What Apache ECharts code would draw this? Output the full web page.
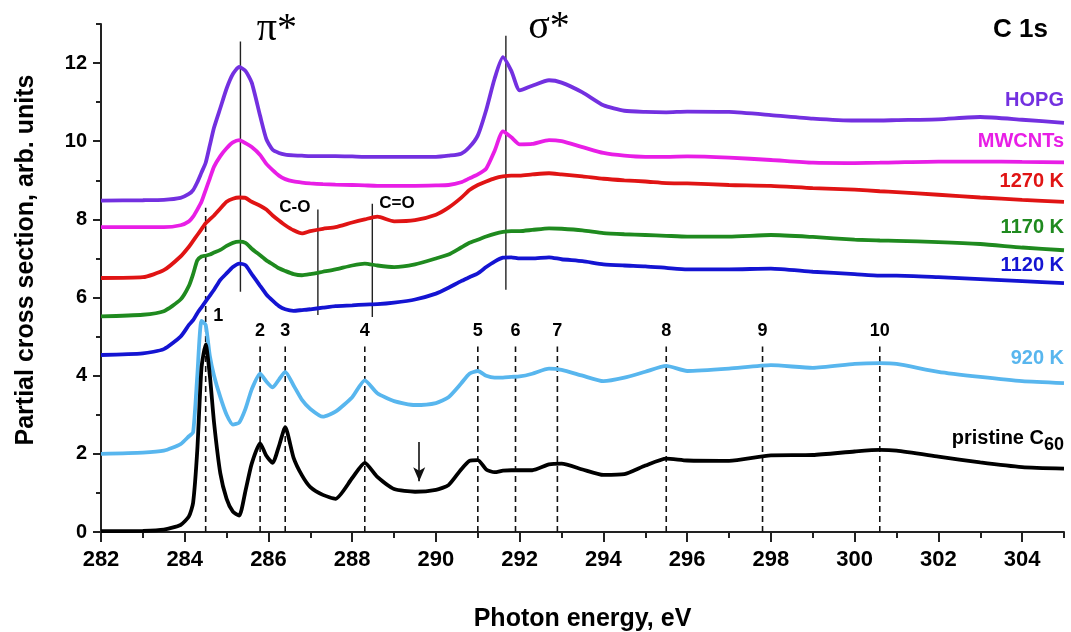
<!DOCTYPE html>
<html>
<head>
<meta charset="utf-8">
<script src="https://cdn.jsdelivr.net/npm/echarts@6/dist/echarts.min.js"></script>
<style>
  html, body { margin: 0; padding: 0; background: #fff; }
  #chart { width: 1071px; height: 632px; }
</style>
</head>
<body>
<div id="chart"></div>
<script>
// photon energy, eV (shared grid for all spectra)
const energy = [282, 283, 283.5, 283.9, 284.1, 284.2, 284.3, 284.4, 284.5, 284.6,
  284.7, 284.85, 285.0, 285.15, 285.3, 285.45, 285.6, 285.8, 285.95, 286.1,
  286.25, 286.4, 286.6, 286.8, 287.0, 287.3, 287.6, 288.0, 288.3, 288.6,
  289.0, 289.5, 290.0, 290.3, 290.6, 290.8, 291.0, 291.2, 291.4, 291.6,
  291.8, 292.0, 292.3, 292.7, 293.0, 293.5, 294.0, 294.5, 295.0, 295.5,
  296.0, 297.0, 298.0, 299.0, 300.0, 300.6, 301.0, 302.0, 303.0, 304.0, 305.0];

// partial cross section, arb. units
const hopg = [8.48, 8.49, 8.5, 8.55, 8.65, 8.75, 8.95, 9.2, 9.45, 9.9,
  10.35, 10.85, 11.35, 11.72, 11.9, 11.8, 11.5, 10.65, 10.05, 9.78,
  9.7, 9.66, 9.64, 9.63, 9.62, 9.62, 9.62, 9.61, 9.6, 9.6,
  9.6, 9.6, 9.6, 9.63, 9.68, 9.85, 10.15, 10.8, 11.6, 12.15,
  11.8, 11.3, 11.42, 11.56, 11.5, 11.25, 10.92, 10.78, 10.75, 10.74,
  10.76, 10.75, 10.67, 10.58, 10.53, 10.53, 10.54, 10.56, 10.62, 10.55, 10.47];
const mwcnts = [7.8, 7.8, 7.8, 7.85, 7.95, 8.07, 8.25, 8.45, 8.75, 9.05,
  9.35, 9.62, 9.82, 9.97, 10.03, 9.95, 9.85, 9.65, 9.42, 9.26,
  9.12, 9.03, 8.97, 8.94, 8.92, 8.9, 8.89, 8.88, 8.87, 8.86,
  8.86, 8.86, 8.87, 8.88, 8.95, 9.05, 9.15, 9.3, 9.75, 10.25,
  10.1, 9.92, 9.93, 10.03, 10.0, 9.85, 9.7, 9.63, 9.6, 9.6,
  9.61, 9.58, 9.52, 9.45, 9.44, 9.45, 9.46, 9.48, 9.48, 9.47, 9.46];
const k1270 = [6.5, 6.52, 6.7, 7.05, 7.3, 7.45, 7.6, 7.75, 7.9, 8.0,
  8.1, 8.28, 8.45, 8.53, 8.56, 8.55, 8.45, 8.35, 8.25, 8.1,
  7.97, 7.85, 7.72, 7.64, 7.7, 7.76, 7.8, 7.92, 8.0, 8.07,
  7.95, 7.98, 8.12, 8.3, 8.55, 8.75, 8.88, 8.97, 9.05, 9.1,
  9.12, 9.12, 9.15, 9.18, 9.15, 9.1, 9.04, 9.0, 8.97, 8.93,
  8.92, 8.88, 8.86, 8.8, 8.76, 8.72, 8.7, 8.63, 8.56, 8.5, 8.45];
const k1170 = [5.52, 5.56, 5.65, 5.95, 6.3, 6.6, 6.95, 7.05, 7.07, 7.1,
  7.15, 7.22, 7.32, 7.4, 7.43, 7.4, 7.25, 7.08, 6.95, 6.85,
  6.75, 6.68, 6.6, 6.57, 6.6, 6.66, 6.72, 6.82, 6.87, 6.82,
  6.78, 6.85, 7.0, 7.1, 7.28, 7.4, 7.48, 7.56, 7.63, 7.68,
  7.7, 7.7, 7.73, 7.77, 7.76, 7.72, 7.65, 7.62, 7.6, 7.58,
  7.56, 7.56, 7.6, 7.55, 7.48, 7.46, 7.45, 7.42, 7.37, 7.28, 7.21];
const k1120 = [4.53, 4.57, 4.68, 5.0, 5.3, 5.42, 5.6, 5.75, 5.9, 6.05,
  6.2, 6.45, 6.62, 6.78, 6.87, 6.83, 6.6, 6.3, 6.08, 5.92,
  5.78, 5.7, 5.66, 5.68, 5.7, 5.74, 5.78, 5.8, 5.82, 5.83,
  5.87, 5.95, 6.1, 6.25, 6.42, 6.52, 6.62, 6.78, 6.92, 7.02,
  7.03, 7.0, 7.0, 7.03, 6.98, 6.93, 6.85, 6.82, 6.8, 6.76,
  6.72, 6.72, 6.74, 6.66, 6.6, 6.56, 6.56, 6.52, 6.47, 6.42, 6.37];
const k920 = [2.0, 2.03, 2.08, 2.25, 2.45, 2.55, 4.0, 5.4, 5.3, 4.5,
  4.0, 3.45, 3.0, 2.75, 2.8, 3.15, 3.65, 4.05, 3.85, 3.7,
  3.9, 4.1, 3.75, 3.38, 3.15, 2.95, 3.08, 3.45, 3.88, 3.55,
  3.35, 3.25, 3.3, 3.45, 3.8, 4.05, 4.12, 4.0, 3.95, 3.95,
  3.97, 3.98, 4.05, 4.18, 4.15, 4.0, 3.86, 3.95, 4.1, 4.25,
  4.12, 4.18, 4.27, 4.2, 4.3, 4.32, 4.3, 4.1, 3.97, 3.86, 3.81];
const c60 = [0.02, 0.03, 0.06, 0.18, 0.4, 0.75, 2.1, 4.2, 4.8, 4.0,
  2.8, 1.5, 0.85, 0.52, 0.42, 1.05, 1.75, 2.27, 1.95, 1.77,
  2.2, 2.68, 1.9, 1.45, 1.15, 0.95, 0.85, 1.38, 1.77, 1.41,
  1.1, 1.03, 1.08, 1.2, 1.6, 1.82, 1.84, 1.6, 1.53, 1.57,
  1.58, 1.58, 1.58, 1.73, 1.75, 1.6, 1.46, 1.48, 1.7, 1.88,
  1.83, 1.82, 1.96, 1.97, 2.06, 2.1, 2.08, 1.93, 1.78, 1.66, 1.62];

// axis ticks
const xMajorTicks = [282, 284, 286, 288, 290, 292, 294, 296, 298, 300, 302, 304];
const yMajorTicks = [0, 2, 4, 6, 8, 10, 12];

// numbered C60 features (dashed lines)
const peakEnergy = [284.5, 285.8, 286.4, 288.3, 291.0, 291.9, 292.9, 295.5, 297.8, 300.6];
const peakLabel = ['1', '2', '3', '4', '5', '6', '7', '8', '9', '10'];
const peakTop = [8.3, 4.75, 4.75, 4.75, 4.75, 4.75, 4.75, 4.75, 4.75, 4.75];

// pi*, sigma*, C-O, C=O markers (solid lines)
const markEnergy = [285.33, 291.67, 287.18, 288.48];
const markBottom = [6.15, 6.2, 5.55, 5.5];
const markTop = [12.55, 12.7, 8.25, 8.4];

const FONT = '"Liberation Sans", Arial, sans-serif';
const SERIF = '"Liberation Serif", "DejaVu Serif", serif';

const spectra = [
  { name: 'HOPG', data: hopg, color: '#7330e0', labelY: 11.05 },
  { name: 'MWCNTs', data: mwcnts, color: '#e81ee6', labelY: 10.0 },
  { name: '1270 K', data: k1270, color: '#e01414', labelY: 8.98 },
  { name: '1170 K', data: k1170, color: '#1f8a1f', labelY: 7.78 },
  { name: '1120 K', data: k1120, color: '#1414d2', labelY: 6.83 },
  { name: '920 K', data: k920, color: '#58b6ee', labelY: 4.45 },
  { name: 'pristine C60', data: c60, color: '#000000', labelY: 2.4 }
];

let series = [];

peakEnergy.forEach((e, i) => {
  series.push({
    type: 'line', silent: true, symbol: 'none', z: 1,
    data: [[e, 0], [e, peakTop[i]]],
    lineStyle: { color: '#111', width: 1.6, type: [6, 4] }
  });
});

markEnergy.forEach((e, i) => {
  series.push({
    type: 'line', silent: true, symbol: 'none', z: 1,
    data: [[e, markBottom[i]], [e, markTop[i]]],
    lineStyle: { color: '#222', width: 1.4 }
  });
});

spectra.forEach(s => {
  series.push({
    name: s.name, type: 'line', symbol: 'none', z: 3,
    smooth: 0.2,
    data: energy.map((e, i) => [e, s.data[i]]),
    lineStyle: { color: s.color, width: 3.8 }
  });
});

// arrow near 289.6 eV
series.push({
  type: 'line', silent: true, symbol: 'none', data: [],
  markLine: {
    silent: true, symbol: ['none', 'arrow'], symbolSize: [9, 14],
    label: { show: false },
    lineStyle: { color: '#111', width: 1.6, type: 'solid' },
    data: [[{ coord: [289.6, 2.3] }, { coord: [289.6, 1.3] }]]
  }
});

// text annotations
let notes = [];
spectra.forEach(s => {
  notes.push({
    value: [305, s.labelY],
    label: {
      align: 'right',
      formatter: s.name === 'pristine C60' ? '{a|pristine C}{s|60}' : s.name,
      color: s.color, fontSize: 20, fontWeight: 'bold',
      rich: {
        a: { fontSize: 20, fontWeight: 'bold', color: s.color, fontFamily: FONT },
        s: { fontSize: 18, fontWeight: 'bold', color: s.color, fontFamily: FONT, padding: [14, 0, 0, 0] }
      }
    }
  });
});
peakEnergy.forEach((e, i) => {
  notes.push({
    value: i === 0 ? [284.8, 5.52] : [e, 5.14],
    label: { formatter: peakLabel[i], fontSize: 18, fontWeight: 'bold', color: '#000' }
  });
});
notes.push({ value: [286.63, 8.31], label: { formatter: 'C-O', fontSize: 17, fontWeight: 'bold', color: '#000' } });
notes.push({ value: [289.07, 8.4], label: { formatter: 'C=O', fontSize: 17, fontWeight: 'bold', color: '#000' } });
notes.push({ value: [286.2, 12.85], label: { formatter: 'π*', fontSize: 40, color: '#000', fontFamily: SERIF } });
notes.push({ value: [292.7, 12.9], label: { formatter: 'σ*', fontSize: 40, color: '#000', fontFamily: SERIF } });

series.push({
  type: 'scatter', silent: true, symbolSize: 0, z: 5,
  itemStyle: { opacity: 1 },
  data: notes,
  label: { show: true, position: 'inside', fontFamily: FONT }
});

const chart = echarts.init(document.getElementById('chart'));
chart.setOption({
  animation: false,
  textStyle: { fontFamily: FONT },
  title: {
    text: 'C 1s', right: 18, top: 12,
    textStyle: { fontSize: 26, fontWeight: 'bold', color: '#000', fontFamily: FONT }
  },
  grid: { left: 101, right: 7, top: 24, bottom: 100, containLabel: false, outerBoundsMode: 'none' },
  xAxis: [{
    type: 'value', min: 282, max: 305,
    name: 'Photon energy, eV', nameLocation: 'middle', nameGap: 75,
    nameTextStyle: { fontSize: 25, fontWeight: 'bold', color: '#000' },
    axisLine: { lineStyle: { color: '#222', width: 2 } },
    axisTick: { customValues: xMajorTicks, length: 10, inside: false, lineStyle: { color: '#222', width: 2 } },
    axisLabel: { customValues: xMajorTicks, margin: 17, fontSize: 22, fontWeight: 'bold', color: '#000' },
    splitLine: { show: false }
  }, {
    type: 'value', min: 282, max: 305, interval: 1, position: 'bottom',
    axisLine: { show: false },
    axisTick: { length: 6, lineStyle: { color: '#222', width: 2 } },
    axisLabel: { show: false },
    splitLine: { show: false }
  }],
  yAxis: [{
    type: 'value', min: 0, max: 13,
    name: 'Partial cross section, arb. units', nameLocation: 'middle', nameGap: 62,
    nameTextStyle: { fontSize: 25, fontWeight: 'bold', color: '#000', padding: [0, 0, 0, 36] },
    axisLine: { show: true, lineStyle: { color: '#222', width: 2 } },
    axisTick: { show: true, customValues: yMajorTicks, length: 8, lineStyle: { color: '#222', width: 2 } },
    axisLabel: { customValues: yMajorTicks, margin: 14, fontSize: 20, fontWeight: 'bold', color: '#000' },
    splitLine: { show: false }
  }, {
    type: 'value', min: 0, max: 13, interval: 1, position: 'left',
    axisLine: { show: false },
    axisTick: { show: true, length: 5, lineStyle: { color: '#222', width: 2 } },
    axisLabel: { show: false },
    splitLine: { show: false }
  }],
  series: series
});
</script>
</body>
</html>
